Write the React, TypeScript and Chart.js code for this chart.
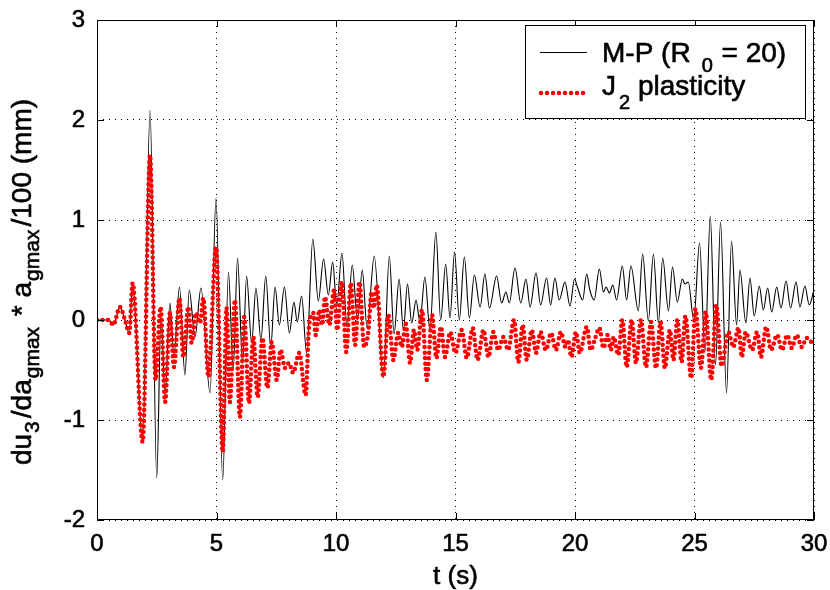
import React, { useEffect, useRef } from "react";
import { Chart, registerables } from "chart.js";

Chart.register(...registerables);

// ---- data ----
const xTicks = [0, 5, 10, 15, 20, 25, 30];
const yTicks = [-2, -1, 0, 1, 2, 3];

// M-P (R0 = 20): [t (s), value]
const mpPoints: [number, number][] = [
  [0, 0], [0.5, 0], [0.68, -0.05], [0.96, 0.13], [1.17, 0.0], [1.35, -0.13], [1.49, 0.37], [1.91, -1.22],
  [2.22, 2.1], [2.5, -1.58], [2.68, 0.05], [2.85, -0.75], [3.05, 0.17], [3.22, -0.35], [3.45, 0.33],
  [3.68, -0.55], [3.86, 0.3], [4.1, -0.17], [4.35, 0.32], [4.73, -0.73], [4.98, 1.22], [5.26, -1.6],
  [5.5, 0.48], [5.7, -0.5], [5.88, 0.62], [6.09, -0.43], [6.26, 0.44], [6.47, -0.23], [6.65, 0.32],
  [6.86, -0.2], [7.06, 0.44], [7.27, -0.27], [7.45, 0.33], [7.63, -0.05], [7.84, 0.33], [8.05, -0.13],
  [8.24, 0.18], [8.38, -0.02], [8.56, 0.24], [8.77, -0.33], [9.03, 0.81], [9.26, 0.19], [9.48, 0.61],
  [9.68, 0.25], [9.86, 0.58], [10.03, 0.15], [10.25, 0.67], [10.46, -0.07], [10.68, 0.55], [10.9, 0.0],
  [11.1, 0.5], [11.3, -0.08], [11.6, 0.64], [11.98, -0.58], [12.23, 0.64], [12.43, -0.14], [12.64, 0.41],
  [12.82, -0.1], [12.99, 0.36], [13.17, -0.03], [13.35, 0.2], [13.51, -0.02], [13.72, 0.43], [13.93, -0.1],
  [14.18, 0.88], [14.38, 0.0], [14.59, 0.56], [14.77, 0.02], [14.96, 0.68], [15.16, 0.0], [15.37, 0.63],
  [15.58, 0.02], [15.79, 0.45], [16.03, 0.13], [16.23, 0.46], [16.42, 0.12], [16.72, 0.44], [16.93, 0.17],
  [17.11, 0.28], [17.25, 0.17], [17.49, 0.52], [17.73, 0.17], [17.95, 0.41], [18.12, 0.13], [18.37, 0.47],
  [18.56, 0.15], [18.81, 0.42], [18.98, 0.15], [19.16, 0.42], [19.34, 0.2], [19.58, 0.38], [19.79, 0.14],
  [19.98, 0.41], [20.1, 0.33], [20.32, 0.2], [20.49, 0.46], [20.62, 0.3], [20.8, 0.2], [21.02, 0.51],
  [21.19, 0.28], [21.3, 0.33], [21.44, 0.27], [21.58, 0.35], [21.74, 0.2], [21.98, 0.54], [22.16, 0.2],
  [22.34, 0.54], [22.65, 0.09], [22.83, 0.66], [23.07, -0.01], [23.28, 0.66], [23.49, -0.03], [23.67, 0.62],
  [23.91, 0.09], [24.08, 0.53], [24.28, 0.18], [24.49, 0.41], [24.6, 0.36], [24.74, 0.38], [24.97, 0.0],
  [25.21, 0.77], [25.44, -0.32], [25.66, 1.04], [25.88, -0.45], [26.09, 0.98], [26.34, -0.73], [26.55, 0.79],
  [26.76, -0.05], [26.9, 0.5], [27.15, -0.03], [27.32, 0.42], [27.5, 0.04], [27.71, 0.34], [27.88, 0.1],
  [28.06, 0.32], [28.23, 0.08], [28.44, 0.33], [28.62, 0.12], [28.83, 0.39], [29.02, 0.12], [29.25, 0.38],
  [29.41, 0.13], [29.62, 0.34], [29.8, 0.15], [30, 0.3],
];

// J2 plasticity: [t (s), value]
const j2Points: [number, number][] = [
  [0, 0], [0.5, 0], [0.68, -0.05], [0.96, 0.13], [1.17, 0.0], [1.35, -0.13], [1.49, 0.37], [1.91, -1.22],
  [2.22, 1.65], [2.45, -0.6], [2.66, 0.13], [2.85, -0.82], [3.05, 0.07], [3.22, -0.47], [3.45, 0.22],
  [3.61, -0.37], [3.82, 0.13], [3.96, -0.23], [4.14, 0.07], [4.31, -0.03], [4.45, 0.22], [4.66, -0.57],
  [4.98, 0.73], [5.26, -1.32], [5.42, 0.12], [5.56, -0.82], [5.77, 0.2], [5.98, -0.97], [6.16, 0.03],
  [6.36, -0.83], [6.54, -0.17], [6.72, -0.77], [6.92, -0.18], [7.13, -0.68], [7.31, -0.22], [7.52, -0.6],
  [7.68, -0.3], [7.87, -0.48], [8.03, -0.43], [8.21, -0.53], [8.46, -0.33], [8.73, -0.75], [8.87, -0.07],
  [9.05, 0.07], [9.15, -0.15], [9.3, 0.1], [9.42, -0.05], [9.54, 0.23], [9.72, -0.05], [9.92, 0.3],
  [10.05, -0.1], [10.24, 0.38], [10.43, -0.32], [10.62, 0.37], [10.8, -0.25], [10.98, 0.38], [11.18, -0.27],
  [11.35, -0.12], [11.49, 0.28], [11.58, 0.12], [11.7, 0.35], [11.98, -0.57], [12.19, 0.05], [12.4, -0.4],
  [12.6, -0.13], [12.75, -0.27], [12.92, -0.04], [13.1, -0.43], [13.26, -0.1], [13.4, -0.3], [13.6, 0.1],
  [13.8, -0.6], [14.02, 0.05], [14.2, -0.38], [14.39, -0.07], [14.56, -0.37], [14.78, -0.12], [14.99, -0.33],
  [15.26, -0.1], [15.47, -0.38], [15.72, -0.08], [15.92, -0.4], [16.17, -0.1], [16.38, -0.37], [16.58, -0.12],
  [16.79, -0.3], [17.0, -0.17], [17.2, -0.3], [17.45, 0.0], [17.63, -0.42], [17.81, -0.05], [17.98, -0.4],
  [18.19, -0.1], [18.37, -0.33], [18.56, -0.12], [18.78, -0.3], [19.0, -0.13], [19.2, -0.3], [19.41, -0.12],
  [19.6, -0.27], [19.7, -0.2], [19.85, -0.37], [20.04, -0.12], [20.2, -0.33], [20.49, -0.07], [20.66, -0.3],
  [20.82, -0.2], [21.02, -0.08], [21.19, -0.28], [21.36, -0.15], [21.5, -0.3], [21.62, -0.17], [21.81, -0.35],
  [21.98, 0.0], [22.16, -0.47], [22.37, 0.0], [22.55, -0.43], [22.76, 0.0], [22.97, -0.47], [23.18, -0.02],
  [23.39, -0.48], [23.58, -0.02], [23.76, -0.48], [23.97, -0.1], [24.12, -0.4], [24.28, 0.0], [24.46, -0.42],
  [24.62, 0.04], [24.86, -0.58], [25.04, 0.11], [25.27, -0.48], [25.47, 0.08], [25.7, -0.6], [25.91, 0.15],
  [26.13, -0.46], [26.42, -0.12], [26.62, -0.27], [26.84, -0.08], [26.98, -0.37], [27.14, -0.12],
  [27.41, -0.3], [27.62, -0.12], [27.78, -0.37], [28.0, -0.07], [28.2, -0.3], [28.46, -0.15], [28.66, -0.3],
  [28.88, -0.15], [29.07, -0.28], [29.27, -0.15], [29.49, -0.27], [29.69, -0.18], [29.9, -0.22], [30, -0.2],
];

const FONT = '"Liberation Sans", Arial, Helvetica, sans-serif';

type Part = { t: string; s: number; dy?: number; gap?: number };

function partsWidth(ctx: CanvasRenderingContext2D, parts: Part[]) {
  let w = 0;
  for (const p of parts) {
    ctx.font = `${p.s}px ${FONT}`;
    w += (p.gap || 0) + ctx.measureText(p.t).width;
  }
  return w;
}

function drawParts(ctx: CanvasRenderingContext2D, parts: Part[], x: number, y: number) {
  let cx = x;
  ctx.textAlign = "left";
  ctx.textBaseline = "alphabetic";
  ctx.lineWidth = 0.6;
  ctx.strokeStyle = "#000";
  ctx.setLineDash([]);
  for (const p of parts) {
    cx += p.gap || 0;
    ctx.font = `${p.s}px ${FONT}`;
    ctx.fillText(p.t, cx, y + (p.dy || 0));
    ctx.strokeText(p.t, cx, y + (p.dy || 0));
    cx += ctx.measureText(p.t).width;
  }
}

const yTitle: Part[] = [
  { t: "du", s: 28 },
  { t: "3", s: 21, dy: 8, gap: 1 },
  { t: "/da", s: 28, gap: 3 },
  { t: "gmax", s: 21, dy: 8, gap: 1 },
  { t: " * ", s: 28, gap: 3 },
  { t: "a", s: 28 },
  { t: "gmax", s: 21, dy: 8, gap: 1 },
  { t: "/100 (mm)", s: 28, gap: 3 },
];

const decorPlugin = {
  id: "decor",
  afterDatasetsDraw(chart: any) {
    const { ctx, chartArea, scales } = chart;
    const { left, right, top, bottom } = chartArea;
    const xs = scales.x;
    const ys = scales.y;
    ctx.save();
    ctx.strokeStyle = "#000";
    ctx.lineWidth = 1;
    ctx.setLineDash([]);
    // frame
    ctx.strokeRect(Math.round(left) + 0.5, Math.round(top) + 0.5, Math.round(right - left) - 1, Math.round(bottom - top) - 1);
    // inward ticks
    ctx.beginPath();
    for (const v of xTicks) {
      const px = Math.round(xs.getPixelForValue(v)) + 0.5;
      ctx.moveTo(px, bottom);
      ctx.lineTo(px, bottom - 7);
      ctx.moveTo(px, top);
      ctx.lineTo(px, top + 7);
    }
    for (const v of yTicks) {
      const py = Math.round(ys.getPixelForValue(v)) + 0.5;
      ctx.moveTo(left, py);
      ctx.lineTo(left + 7, py);
      ctx.moveTo(right, py);
      ctx.lineTo(right - 7, py);
    }
    ctx.stroke();

    // legend
    const lx = 525, ly = 25, lw = 280, lh = 93;
    ctx.fillStyle = "#fff";
    ctx.fillRect(lx, ly, lw, lh);
    ctx.strokeRect(lx + 0.5, ly + 0.5, lw, lh);
    ctx.beginPath();
    ctx.moveTo(540, 52.5);
    ctx.lineTo(587, 52.5);
    ctx.stroke();
    ctx.save();
    ctx.strokeStyle = "#ff0000";
    ctx.lineWidth = 4.5;
    ctx.lineCap = "round";
    ctx.setLineDash([0, 6]);
    ctx.beginPath();
    ctx.moveTo(541, 93);
    ctx.lineTo(587, 93);
    ctx.stroke();
    ctx.restore();
    ctx.fillStyle = "#000";
    drawParts(ctx, [
      { t: "M-P (R", s: 28 },
      { t: "0", s: 20, dy: 10, gap: 11 },
      { t: " = 20)", s: 28, gap: 1 },
    ], 602, 62);
    drawParts(ctx, [
      { t: "J", s: 28 },
      { t: "2", s: 20, dy: 14, gap: 3 },
      { t: " plasticity", s: 28, gap: 0 },
    ], 602, 95);

    // x title
    ctx.font = `26px ${FONT}`;
    const tw = ctx.measureText("t (s)").width;
    drawParts(ctx, [{ t: "t (s)", s: 26 }], (left + right) / 2 - tw / 2, 584);

    // y title (rotated)
    ctx.save();
    ctx.translate(31, 282);
    ctx.rotate(-Math.PI / 2);
    const w = partsWidth(ctx, yTitle);
    ctx.fillStyle = "#000";
    drawParts(ctx, yTitle, -w / 2, 0);
    ctx.restore();

    ctx.restore();
  },
};

export default function App() {
  const ref = useRef<HTMLCanvasElement | null>(null);
  useEffect(() => {
    if (!ref.current) return;
    const tickFont = { family: FONT, size: 24 };
    const chart = new Chart(ref.current, {
      type: "line",
      data: {
        datasets: [
          {
            label: "J2 plasticity",
            data: j2Points.map(([x, y]) => ({ x, y })),
            borderColor: "#ff0000",
            borderWidth: 4.5,
            borderDash: [0, 5.5],
            borderCapStyle: "round",
            pointRadius: 0,
            cubicInterpolationMode: "monotone",
            fill: false,
          },
          {
            label: "M-P (R0 = 20)",
            data: mpPoints.map(([x, y]) => ({ x, y })),
            borderColor: "#000",
            borderWidth: 1.1,
            pointRadius: 0,
            cubicInterpolationMode: "monotone",
            fill: false,
          },
        ],
      },
      options: {
        animation: false,
        responsive: false,
        devicePixelRatio: 1,
        layout: { padding: { top: 20, right: 16, left: 0, bottom: 0 } },
        plugins: { legend: { display: false }, tooltip: { enabled: false } },
        scales: {
          x: {
            type: "linear",
            min: 0,
            max: 30,
            afterBuildTicks: (s: any) => {
              s.ticks = xTicks.map((v) => ({ value: v }));
            },
            afterFit: (s: any) => {
              s.height = 70;
              s.paddingLeft = 0;
              s.paddingRight = 0;
            },
            grid: { color: "#000", lineWidth: 1, drawTicks: false },
            border: { display: false, dash: [1, 5] },
            ticks: { font: tickFont, color: "#000", padding: 10, maxRotation: 0, textStrokeColor: "#000", textStrokeWidth: 0.6 },
          },
          y: {
            type: "linear",
            min: -2,
            max: 3,
            afterBuildTicks: (s: any) => {
              s.ticks = yTicks.map((v) => ({ value: v }));
            },
            afterFit: (s: any) => {
              s.width = 97;
              s.paddingTop = 0;
              s.paddingBottom = 0;
            },
            grid: { color: "#000", lineWidth: 1, drawTicks: false },
            border: { display: false, dash: [1, 5] },
            ticks: { font: tickFont, color: "#000", padding: 12, textStrokeColor: "#000", textStrokeWidth: 0.6 },
          },
        },
      },
      plugins: [decorPlugin],
    } as any);
    return () => chart.destroy();
  }, []);
  return (
    <div style={{ position: "fixed", left: 0, top: 0, width: 830, height: 590, background: "#fff" }}>
      <canvas ref={ref} width={830} height={590} style={{ display: "block", width: 830, height: 590 }} />
    </div>
  );
}
